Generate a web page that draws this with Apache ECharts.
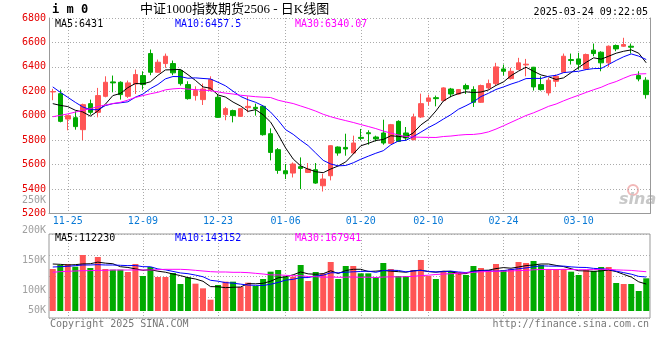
<!DOCTYPE html>
<html><head><meta charset="utf-8">
<script src="https://cdn.jsdelivr.net/npm/echarts@6.0.0/dist/echarts.min.js"></script>
<style>html,body{margin:0;padding:0;background:#fff}#c{width:660px;height:360px}</style>
</head><body><div id="c"></div>
<script>
const dates = ['11-21','11-22','11-25','11-26','11-27','11-28','11-29','12-02','12-03','12-04','12-05','12-06',
'12-09','12-10','12-11','12-12','12-13','12-16','12-17','12-18','12-19','12-20','12-23','12-24','12-25','12-26','12-27',
'12-30','12-31','01-02','01-03','01-06','01-07','01-08','01-09','01-10','01-13','01-14','01-15','01-16','01-17',
'01-20','01-21','01-22','01-23','01-24','01-27','02-05','02-06','02-07','02-10','02-11','02-12','02-13','02-14',
'02-17','02-18','02-19','02-20','02-21','02-24','02-25','02-26','02-27','02-28','03-03','03-04','03-05','03-06','03-07',
'03-10','03-11','03-12','03-13','03-14','03-17','03-18','03-19','03-20','03-21'];
const opens = [6195,6181,5973,5984,5886,6099,6028,6159,6277,6274,6159,6260,6329,6509,6356,6427,6427,6370,6255,6165,
6132,6214,6151,6009,6042,5995,6066,6069,6077,5853,5722,5550,5531,5583,5536,5558,5427,5509,5744,5741,
5695,5823,5861,5826,5859,5774,5954,5859,5804,5990,6118,6148,6124,6219,6178,6247,6214,6110,6228,6263,
6383,6304,6378,6416,6397,6255,6187,6282,6356,6460,6465,6383,6537,6520,6433,6575,6569,6569,6329,6291];
const closes = [6198,5954,6001,5911,6091,6028,6165,6274,6269,6173,6269,6337,6255,6356,6438,6487,6351,6263,6140,6206,
6219,6296,5987,6058,6001,6058,6077,6058,5845,5700,5553,5525,5605,5569,5564,5449,5482,5755,5695,5728,
5777,5815,5853,5810,5777,5927,5790,5818,5990,6099,6146,6140,6228,6178,6214,6219,6110,6247,6263,6400,
6364,6364,6433,6422,6236,6214,6291,6323,6487,6452,6422,6501,6509,6433,6569,6547,6583,6561,6301,6173];
const lows = [6127,5946,5881,5886,5799,6009,5987,6151,6192,6132,6146,6178,6214,6332,6351,6392,6332,6247,6132,6124,
6088,6200,5982,5963,5946,5990,6028,6001,5837,5635,5525,5482,5495,5400,5531,5443,5380,5471,5673,5673,
5689,5799,5763,5790,5763,5771,5785,5796,5799,5982,6083,6077,6118,6151,6173,6178,6072,6105,6214,6247,
6329,6296,6373,6323,6206,6206,6165,6236,6351,6419,6378,6378,6487,6364,6400,6528,6564,6509,6282,6140];
const highs = [6220,6214,6003,6036,6099,6132,6228,6323,6329,6282,6288,6378,6364,6542,6460,6509,6452,6378,6282,6241,
6263,6323,6173,6072,6050,6060,6159,6099,6083,5897,5736,5605,5618,5659,5613,5613,5525,5758,5749,5853,
5837,5892,5881,5837,5968,5933,5963,5908,6017,6181,6173,6165,6233,6228,6219,6263,6241,6255,6296,6433,
6419,6392,6474,6465,6400,6323,6310,6337,6509,6509,6515,6509,6591,6528,6575,6583,6638,6591,6364,6315];
const ma5 = [6099,6085,6075,6045,6031,5997,6039,6094,6165,6182,6230,6264,6261,6278,6331,6375,6377,6379,6336,6289,
6236,6225,6170,6153,6112,6080,6036,6050,6008,5948,5847,5736,5646,5590,5563,5542,5534,5564,5589,5622,
5687,5754,5774,5797,5806,5836,5831,5824,5860,5925,5969,6039,6121,6158,6181,6196,6190,6194,6211,6248,
6277,6328,6365,6397,6364,6334,6319,6297,6310,6353,6395,6437,6474,6463,6487,6512,6528,6539,6512,6433];
const ma10 = [6236,6192,6151,6110,6072,6050,6050,6083,6099,6106,6114,6152,6177,6222,6256,6302,6321,6320,6307,6310,
6305,6301,6274,6245,6201,6158,6131,6110,6081,6030,5963,5886,5848,5799,5755,5695,5635,5605,5590,5593,
5615,5644,5669,5693,5714,5762,5793,5799,5829,5866,5903,5935,5973,6009,6053,6082,6114,6157,6184,6215,
6236,6259,6279,6304,6306,6305,6323,6331,6353,6359,6364,6378,6386,6387,6420,6453,6483,6506,6488,6460];
const ma30 = [5992,6003,6015,6030,6044,6058,6075,6088,6100,6110,6128,6150,6165,6180,6192,6212,6220,6224,6218,6214,
6210,6205,6195,6185,6178,6168,6162,6156,6152,6149,6127,6113,6100,6080,6060,6038,6012,5992,5975,5960,
5945,5928,5912,5895,5875,5858,5843,5830,5826,5824,5823,5822,5830,5834,5841,5846,5847,5854,5868,5891,
5918,5946,5974,6002,6024,6050,6077,6096,6122,6146,6168,6191,6213,6233,6260,6280,6307,6332,6342,6344];
const volumes = [177700,194600,198800,187500,236900,181900,228400,177700,174800,174800,165000,198800,148100,186100,143800,143800,160700,114200,142400,115600,
95900,47900,110000,124100,124100,101500,119900,105800,135400,166400,173400,145200,145200,194600,126900,165000,157900,207300,135400,190400,
190400,159300,159300,143800,203000,177700,148100,148100,173400,215700,148100,135400,169200,169200,165000,152300,190400,181900,173400,198800,
173400,177700,207300,203000,211500,194600,177700,177700,177700,166400,152300,173400,169200,186100,186100,118400,114200,114200,84600,138200];
const volMa5 = [198800,197400,194600,196000,199100,199900,206700,202500,199900,187500,184100,178200,172300,174600,168400,164100,156500,149700,141000,135400,
125800,103200,102400,98700,100400,101500,115900,115100,117300,125800,140200,145200,153100,165000,157100,155400,157900,170300,158500,171200,
176300,176500,166900,168600,171200,168600,166400,164100,170000,172600,166700,164100,168400,167500,157400,158200,169200,171700,172600,179400,
183600,181000,186100,192000,194600,198800,198800,192900,187800,178800,170300,169500,167800,169500,173400,166700,154800,143800,123500,113900];
const volMa10 = [186100,187500,188900,191800,194600,194600,196000,194600,194600,193300,192000,192500,187400,187200,177900,174100,167400,161000,157800,151900,
144900,129900,126100,119900,117900,113600,109600,108700,108000,113100,120800,130600,134100,141100,141400,147800,151600,161700,161700,164100,
165800,167200,168600,163600,171200,172400,171500,165500,169300,171900,167600,165300,166200,168800,165000,162400,166700,170000,170000,168400,
170900,175100,178900,182300,187000,191200,189900,189500,189900,186700,184600,184100,180300,178600,176100,168500,162200,155800,146500,143700];
const volMa30 = [163600,166400,167800,169200,170600,170600,172000,172000,173400,173400,173400,173400,173400,173400,174800,176300,176300,176300,174800,172000,
169200,166400,165000,165000,163600,163600,162200,159300,156500,152700,152600,151000,149200,149500,145800,145200,142800,143800,142600,143000,
143800,142600,143000,141600,143500,144700,144200,145400,146400,149700,151400,154400,156400,157800,159200,160900,163300,165800,167100,168100,
168100,169200,171300,171600,174400,175400,176000,175000,176400,175700,174400,174800,175100,176500,176000,174000,172900,171700,168800,166200];
const xTickDates = ['11-25','12-09','12-23','01-06','01-20','02-10','02-24','03-10'];
const volTickLabels = ['250K','200K','150K','100K','50K'];
const titleCode = 'i m 0';
const titleText = '中证1000指数期货2506 - 日K线图';
const stampText = '2025-03-24 09:22:05';
const priceLegend = ['MA5:6431','MA10:6457.5','MA30:6340.07'];
const volLegend = ['MA5:112230','MA10:143152','MA30:167941'];

const RED = '#ff5555', GREEN = '#00aa00';
const MONO = '"DejaVu Sans Mono", monospace';
const GRID_LINE = {color:'#aaaaaa', type:[1,2], width:1};
const tickFn = (i, v) => xTickDates.indexOf(v) >= 0;
const legColors = ['#000000','#0000ff','#ff00ff'];
const legX = [55,175,295];
const volLabelY = [200.5, 230.5, 260.5, 290, 310.5];

const graphics = [];
graphics.push({type:'text', x:52, y:10, style:{text:titleCode, font:'bold 12px '+MONO, fill:'#000', verticalAlign:'middle'}});
graphics.push({type:'text', x:140, y:10, style:{text:titleText, font:'13px "Liberation Serif", "Noto Sans CJK SC"', fill:'#000', verticalAlign:'middle'}});
graphics.push({type:'text', x:648, y:12, style:{text:stampText, font:'10px '+MONO, fill:'#000', align:'right', verticalAlign:'middle'}});
priceLegend.forEach((t,k)=>graphics.push({type:'text', x:legX[k], y:24, z:10, style:{text:t, font:'10px '+MONO, fill:legColors[k], verticalAlign:'middle'}}));
volLegend.forEach((t,k)=>graphics.push({type:'text', x:legX[k], y:238.5, z:10, style:{text:t, font:'10px '+MONO, fill:legColors[k], verticalAlign:'middle'}}));
volTickLabels.forEach((t,k)=>graphics.push({type:'text', x:46, y:volLabelY[k], style:{text:t, font:'10px '+MONO, fill:'#a0a0a0', align:'right', verticalAlign:'middle'}}));
graphics.push({type:'text', x:50, y:324.5, style:{text:'Copyright 2025 SINA.COM', font:'10px '+MONO, fill:'#777', verticalAlign:'middle'}});
graphics.push({type:'text', x:649, y:324.5, style:{text:'http://finance.sina.com.cn', font:'10px '+MONO, fill:'#777', align:'right', verticalAlign:'middle'}});
graphics.push({type:'circle', shape:{cx:633, cy:190, r:5}, style:{fill:'none', stroke:'#f2b8b8', lineWidth:2}});
graphics.push({type:'text', x:619, y:200, style:{text:'sina', font:'italic bold 16px "DejaVu Sans"', fill:'#c8c8c8', verticalAlign:'middle'}});

const xCommon = (gi, showLabel) => ({
  type:'category', gridIndex:gi, data:dates, boundaryGap:true,
  axisLine:{show:showLabel, lineStyle:{color:'#999'}},
  axisTick:{show:false},
  axisLabel:{show:showLabel, interval:tickFn, color:'#0a7ad6', fontFamily:MONO, fontSize:10, margin:3},
  splitLine:{show:true, interval:tickFn, alignWithLabel:true, lineStyle:GRID_LINE}
});

const chart = echarts.init(document.getElementById('c'), null, {renderer:'canvas'});
chart.setOption({
  animation:false,
  backgroundColor:'#fff',
  grid:[
    {left:49, width:601, top:18, height:195.5, containLabel:false, outerBoundsMode:'none'},
    {left:49, width:601, top:234, height:84, containLabel:false, outerBoundsMode:'none', show:true, borderColor:'#999', borderWidth:1}
  ],
  xAxis:[xCommon(0,true), xCommon(1,false)],
  yAxis:[
    {type:'value', gridIndex:0, min:5200, max:6800, interval:200, position:'left',
     axisLine:{show:true, lineStyle:{color:'#999'}}, axisTick:{show:false},
     axisLabel:{color:'#e60000', fontFamily:MONO, fontSize:10, margin:3, formatter:(v)=>String(v)},
     splitLine:{show:true, lineStyle:GRID_LINE}},
    {type:'value', gridIndex:0, min:0, max:1, position:'right',
     axisLine:{show:true, lineStyle:{color:'#999'}}, axisTick:{show:false}, axisLabel:{show:false}, splitLine:{show:false}},
    {type:'value', gridIndex:1, min:-29610, max:325710,
     axisLine:{show:false}, axisTick:{show:false}, axisLabel:{show:false}, splitLine:{show:false}},
    {type:'value', gridIndex:1, min:0, max:84, interval:21, position:'right',
     axisLine:{show:false}, axisTick:{show:false}, axisLabel:{show:false}, splitLine:{show:true, lineStyle:GRID_LINE}}
  ],
  graphic:graphics,
  series:[
    {type:'candlestick', xAxisIndex:0, yAxisIndex:0, barWidth:5,
     data:dates.map((d,i)=>[opens[i], closes[i], lows[i], highs[i]]),
     itemStyle:{color:RED, color0:GREEN, borderColor:RED, borderColor0:GREEN, borderWidth:1}},
    {type:'line', xAxisIndex:0, yAxisIndex:0, data:ma5, symbol:'none', lineStyle:{color:'#000', width:1}},
    {type:'line', xAxisIndex:0, yAxisIndex:0, data:ma10, symbol:'none', lineStyle:{color:'#0000ff', width:1}},
    {type:'line', xAxisIndex:0, yAxisIndex:0, data:ma30, symbol:'none', lineStyle:{color:'#ff00ff', width:1}},
    {type:'bar', xAxisIndex:1, yAxisIndex:2, barWidth:6, data:volumes,
     itemStyle:{color:(p)=> closes[p.dataIndex] >= opens[p.dataIndex] ? RED : GREEN}},
    {type:'line', xAxisIndex:1, yAxisIndex:2, data:volMa5, symbol:'none', lineStyle:{color:'#000', width:1}},
    {type:'line', xAxisIndex:1, yAxisIndex:2, data:volMa10, symbol:'none', lineStyle:{color:'#0000ff', width:1}},
    {type:'line', xAxisIndex:1, yAxisIndex:2, data:volMa30, symbol:'none', lineStyle:{color:'#ff00ff', width:1}}
  ]
});
</script></body></html>
